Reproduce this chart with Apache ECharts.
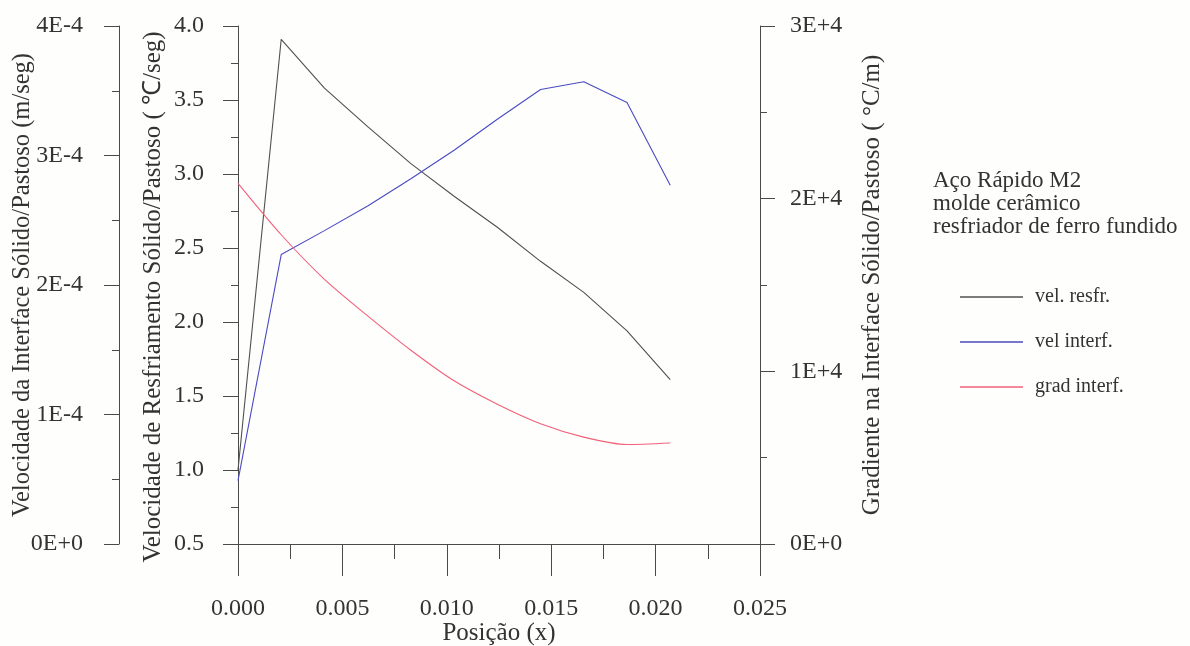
<!DOCTYPE html>
<html>
<head>
<meta charset="utf-8">
<script src="https://cdn.jsdelivr.net/npm/echarts@6/dist/echarts.min.js"></script>
<style>
  html, body { margin: 0; padding: 0; background: #fefefd; }
  #chart { width: 1190px; height: 646px; }
</style>
</head>
<body>
<div id="chart"></div>
<script>
// Position along the casting (m)
const positions = [0, 0.00207, 0.00414, 0.00621, 0.00828, 0.01035, 0.01242, 0.01449, 0.01656, 0.01863, 0.0207];
// Cooling rate at the solid/mushy interface (°C/s)
const velResfr = [1.00, 3.91, 3.58, 3.32, 3.07, 2.85, 2.64, 2.41, 2.20, 1.94, 1.61];
// Solid/mushy interface velocity (m/s)
const velInterf = [0.49e-4, 2.235e-4, 2.42e-4, 2.61e-4, 2.82e-4, 3.04e-4, 3.28e-4, 3.51e-4, 3.57e-4, 3.41e-4, 2.77e-4];
// Thermal gradient at the solid/mushy interface (°C/m)
const gradInterf = [20890, 17910, 15330, 13210, 11220, 9450, 8095, 6965, 6190, 5760, 5850];

const seriesNames = ['vel. resfr.', 'vel interf.', 'grad interf.'];
const velInterfTicks = ['0E+0', '1E-4', '2E-4', '3E-4', '4E-4'];
const gradTicks = ['0E+0', '1E+4', '2E+4', '3E+4'];
const noteLines = ['Aço Rápido M2', 'molde cerâmico', 'resfriador de ferro fundido'];

const FONT = 'Liberation Serif';
const INK = '#333333';
const AXIS = '#4a4a4a';

const pairs = (ys) => positions.map((x, i) => [x, ys[i]]);

function axisBase(extra) {
  return Object.assign({
    type: 'value',
    splitLine: { show: false },
    axisLine: { show: true, onZero: false, lineStyle: { color: AXIS, width: 1 } },
    axisTick: { show: true, inside: false, length: 15, lineStyle: { color: AXIS, width: 1 } },
    minorTick: { show: true, splitNumber: 2, length: 7, lineStyle: { color: AXIS, width: 1 } },
    axisLabel: { color: INK, fontFamily: FONT, fontSize: 24 },
    nameLocation: 'middle',
    nameMoveOverlap: false,
    nameTextStyle: { color: INK, fontFamily: FONT, fontSize: 25 }
  }, extra);
}

const chart = echarts.init(document.getElementById('chart'));
chart.setOption({
  backgroundColor: '#fefefd',
  animation: false,
  title: {
    text: noteLines.join('\n'),
    left: 928,
    top: 164,
    textStyle: { color: INK, fontFamily: FONT, fontSize: 23, fontWeight: 'normal', lineHeight: 23 }
  },
  legend: {
    orient: 'vertical',
    left: 955,
    top: 282,
    icon: 'rect',
    itemWidth: 63,
    itemHeight: 1.5,
    itemGap: 25,
    data: seriesNames,
    textStyle: { color: INK, fontFamily: FONT, fontSize: 20, padding: [0, 0, 0, 7] }
  },
  grid: { left: 238, top: 26, width: 522, height: 518, containLabel: false, outerBoundsMode: 'none' },
  xAxis: axisBase({
    min: 0, max: 0.025, interval: 0.005,
    position: 'bottom',
    axisTick: { show: true, length: 32, lineStyle: { color: AXIS, width: 1 } },
    minorTick: { show: true, splitNumber: 2, length: 15, lineStyle: { color: AXIS, width: 1 } },
    axisLabel: { color: INK, fontFamily: FONT, fontSize: 24, margin: 53, formatter: v => v.toFixed(3) },
    name: 'Posição (x)',
    nameGap: 77
  }),
  yAxis: [
    axisBase({
      position: 'left', offset: 0,
      min: 0.5, max: 4.0, interval: 0.5,
      axisLabel: { color: INK, fontFamily: FONT, fontSize: 24, margin: 34, formatter: v => v.toFixed(1) },
      name: 'Velocidade de Resfriamento Sólido/Pastoso ( ℃/seg)',
      nameGap: 72,
      nameTextStyle: { color: INK, fontFamily: FONT, fontSize: 25, padding: [0, 24, 0, 0] }
    }),
    axisBase({
      position: 'left', offset: 119,
      min: 0, max: 4e-4, interval: 1e-4,
      axisLabel: { color: INK, fontFamily: FONT, fontSize: 24, margin: 36,
        formatter: v => velInterfTicks[Math.round(v / 1e-4)] },
      name: 'Velocidade da Interface Sólido/Pastoso (m/seg)',
      nameGap: 84,
      nameTextStyle: { color: INK, fontFamily: FONT, fontSize: 24.5 }
    }),
    axisBase({
      position: 'right', offset: 0,
      min: 0, max: 3e4, interval: 1e4,
      axisLabel: { color: INK, fontFamily: FONT, fontSize: 24, margin: 30,
        formatter: v => gradTicks[Math.round(v / 1e4)] },
      name: 'Gradiente na Interface Sólido/Pastoso ( °C/m)',
      nameGap: 100
    })
  ],
  series: [
    {
      name: seriesNames[0], type: 'line', yAxisIndex: 0, symbol: 'none',
      lineStyle: { color: '#505050', width: 1.1 }, itemStyle: { color: '#505050' },
      data: pairs(velResfr)
    },
    {
      name: seriesNames[1], type: 'line', yAxisIndex: 1, symbol: 'none',
      lineStyle: { color: '#4a4ac4', width: 1.1 }, itemStyle: { color: '#4a4ac4' },
      data: pairs(velInterf)
    },
    {
      name: seriesNames[2], type: 'line', yAxisIndex: 2, symbol: 'none', smooth: 0.25,
      lineStyle: { color: '#f2607a', width: 1.1 }, itemStyle: { color: '#f2607a' },
      data: pairs(gradInterf)
    }
  ]
});
</script>
</body>
</html>
